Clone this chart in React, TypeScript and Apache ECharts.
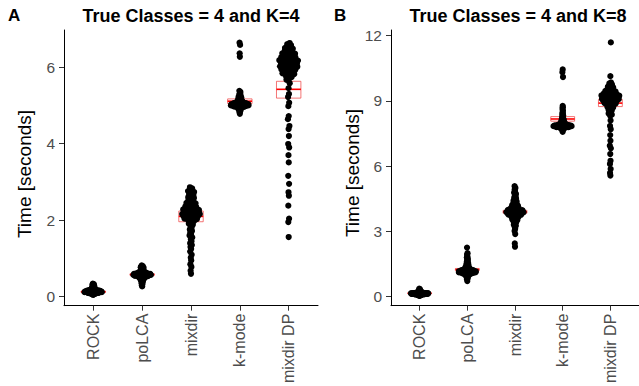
import React, { useEffect, useRef } from "react";
import * as echarts from "echarts";

const categories = ["ROCK", "poLCA", "mixdir", "k-mode", "mixdir DP"];
const yTicksA = [0, 2, 4, 6];
const yTicksB = [0, 3, 6, 9, 12];
const titleA = "True Classes = 4 and K=4";
const titleB = "True Classes = 4 and K=8";
const yName = "Time [seconds]";

// ---------- Panel A (K=4) run times ----------
const rockA = [
  0.05, 0.06, 0.07, 0.07, 0.08, 0.08, 0.08, 0.09, 0.09, 0.09,
  0.09, 0.10, 0.10, 0.10, 0.10, 0.10, 0.10, 0.11, 0.11, 0.11,
  0.11, 0.11, 0.11, 0.11, 0.12, 0.12, 0.12, 0.12, 0.12, 0.12,
  0.12, 0.12, 0.12, 0.13, 0.13, 0.13, 0.13, 0.13, 0.13, 0.13,
  0.13, 0.13, 0.13, 0.14, 0.14, 0.14, 0.14, 0.14, 0.14, 0.14,
  0.14, 0.14, 0.15, 0.15, 0.15, 0.15, 0.15, 0.15, 0.15, 0.15,
  0.16, 0.16, 0.16, 0.16, 0.16, 0.16, 0.17, 0.17, 0.17, 0.17,
  0.17, 0.18, 0.18, 0.18, 0.18, 0.19, 0.19, 0.19, 0.20, 0.20,
  0.21, 0.21, 0.22, 0.22, 0.23, 0.23, 0.24, 0.25, 0.26, 0.27,
  0.28, 0.29, 0.30, 0.31, 0.32, 0.33, 0.34, 0.16, 0.13, 0.12,
];
const polcaA = [
  0.27, 0.30, 0.33, 0.35, 0.37, 0.39, 0.41, 0.42, 0.43, 0.44,
  0.45, 0.46, 0.47, 0.48, 0.48, 0.49, 0.49, 0.50, 0.50, 0.51,
  0.51, 0.52, 0.52, 0.52, 0.53, 0.53, 0.53, 0.54, 0.54, 0.54,
  0.54, 0.55, 0.55, 0.55, 0.55, 0.55, 0.56, 0.56, 0.56, 0.56,
  0.56, 0.57, 0.57, 0.57, 0.57, 0.57, 0.57, 0.58, 0.58, 0.58,
  0.58, 0.58, 0.58, 0.59, 0.59, 0.59, 0.59, 0.59, 0.60, 0.60,
  0.60, 0.60, 0.60, 0.61, 0.61, 0.61, 0.61, 0.62, 0.62, 0.62,
  0.62, 0.63, 0.63, 0.63, 0.64, 0.64, 0.65, 0.65, 0.66, 0.66,
  0.67, 0.68, 0.69, 0.70, 0.71, 0.72, 0.73, 0.74, 0.75, 0.76,
  0.77, 0.78, 0.79, 0.80, 0.82, 0.58, 0.57, 0.59, 0.56, 0.60,
];
const mixdirA = [
  0.60, 0.68, 0.78, 0.85, 0.95, 1.02, 1.10, 1.18, 1.25, 1.30,
  1.35, 1.40, 1.45, 1.50, 1.55, 1.60, 1.64, 1.68, 1.72, 1.76,
  1.80, 1.84, 1.88, 1.91, 1.94, 1.96, 1.98, 2.00, 2.01, 2.02,
  2.03, 2.04, 2.05, 2.06, 2.07, 2.08, 2.09, 2.10, 2.10, 2.11,
  2.12, 2.12, 2.13, 2.14, 2.14, 2.15, 2.16, 2.16, 2.17, 2.18,
  2.18, 2.19, 2.20, 2.20, 2.21, 2.22, 2.22, 2.23, 2.24, 2.24,
  2.25, 2.26, 2.27, 2.28, 2.29, 2.30, 2.31, 2.32, 2.33, 2.34,
  2.35, 2.36, 2.37, 2.38, 2.39, 2.40, 2.41, 2.42, 2.44, 2.45,
  2.47, 2.48, 2.50, 2.52, 2.54, 2.56, 2.58, 2.60, 2.62, 2.64,
  2.66, 2.68, 2.70, 2.72, 2.74, 2.76, 2.78, 2.80, 2.83, 2.86,
];
const kmodeA = [
  4.78, 4.82, 4.85, 4.87, 4.89, 4.90, 4.91, 4.92, 4.93, 4.94,
  4.94, 4.95, 4.95, 4.96, 4.96, 4.97, 4.97, 4.97, 4.98, 4.98,
  4.98, 4.99, 4.99, 4.99, 4.99, 5.00, 5.00, 5.00, 5.00, 5.01,
  5.01, 5.01, 5.01, 5.02, 5.02, 5.02, 5.02, 5.03, 5.03, 5.03,
  5.03, 5.04, 5.04, 5.04, 5.05, 5.05, 5.05, 5.06, 5.06, 5.06,
  5.07, 5.07, 5.07, 5.08, 5.08, 5.09, 5.09, 5.10, 5.10, 5.11,
  5.11, 5.12, 5.12, 5.13, 5.14, 5.15, 5.16, 5.17, 5.18, 5.19,
  5.20, 5.21, 5.22, 5.23, 5.24, 5.26, 5.28, 5.30, 5.32, 5.35,
  5.38, 5.00, 5.01, 5.02, 5.03, 4.99, 4.98, 5.04, 5.05, 5.06,
  5.00, 5.02, 5.03, 5.01, 4.97, 5.04, 6.27, 6.36, 6.58, 6.64,
];
const mixdirDpA = [
  6.63, 6.60, 6.57, 6.54, 6.52, 6.50, 6.48, 6.46, 6.44, 6.42,
  6.41, 6.39, 6.38, 6.36, 6.35, 6.33, 6.32, 6.31, 6.30, 6.28,
  6.27, 6.26, 6.25, 6.24, 6.23, 6.22, 6.21, 6.20, 6.19, 6.18,
  6.17, 6.16, 6.15, 6.14, 6.13, 6.12, 6.11, 6.10, 6.09, 6.08,
  6.07, 6.06, 6.05, 6.04, 6.03, 6.02, 6.01, 6.00, 5.99, 5.98,
  5.97, 5.96, 5.95, 5.94, 5.93, 5.92, 5.91, 5.90, 5.88, 5.87,
  5.85, 5.84, 5.82, 5.80, 5.78, 5.76, 5.74, 5.72, 5.70, 5.67,
  5.58, 5.45, 5.30, 5.22, 5.07, 4.98, 4.72, 4.64, 4.46, 4.38,
  4.20, 3.99, 3.90, 3.70, 3.51, 3.16, 2.95, 2.73, 2.64, 2.38,
  2.04, 1.95, 1.56,
];

// ---------- Panel B (K=8) run times ----------
const rockB = [
  0.04, 0.05, 0.06, 0.07, 0.07, 0.08, 0.08, 0.09, 0.09, 0.09,
  0.10, 0.10, 0.10, 0.10, 0.11, 0.11, 0.11, 0.11, 0.11, 0.12,
  0.12, 0.12, 0.12, 0.12, 0.12, 0.13, 0.13, 0.13, 0.13, 0.13,
  0.13, 0.13, 0.14, 0.14, 0.14, 0.14, 0.14, 0.14, 0.14, 0.14,
  0.15, 0.15, 0.15, 0.15, 0.15, 0.15, 0.15, 0.15, 0.16, 0.16,
  0.16, 0.16, 0.16, 0.16, 0.16, 0.17, 0.17, 0.17, 0.17, 0.17,
  0.17, 0.18, 0.18, 0.18, 0.18, 0.18, 0.19, 0.19, 0.19, 0.19,
  0.20, 0.20, 0.20, 0.21, 0.21, 0.21, 0.22, 0.22, 0.23, 0.23,
  0.24, 0.24, 0.25, 0.26, 0.27, 0.28, 0.30, 0.32, 0.35, 0.37,
  0.15, 0.14, 0.16, 0.13, 0.15, 0.17, 0.12, 0.16, 0.14, 0.15,
];
const polcaB = [
  0.72, 0.80, 0.85, 0.89, 0.92, 0.95, 0.97, 0.99, 1.00, 1.01,
  1.02, 1.03, 1.04, 1.05, 1.05, 1.06, 1.07, 1.07, 1.08, 1.08,
  1.09, 1.09, 1.10, 1.10, 1.10, 1.11, 1.11, 1.11, 1.12, 1.12,
  1.12, 1.13, 1.13, 1.13, 1.14, 1.14, 1.14, 1.15, 1.15, 1.15,
  1.16, 1.16, 1.16, 1.17, 1.17, 1.17, 1.18, 1.18, 1.18, 1.19,
  1.19, 1.19, 1.20, 1.20, 1.21, 1.21, 1.22, 1.22, 1.23, 1.23,
  1.24, 1.24, 1.25, 1.25, 1.26, 1.27, 1.28, 1.29, 1.30, 1.31,
  1.32, 1.33, 1.34, 1.35, 1.37, 1.38, 1.40, 1.42, 1.44, 1.46,
  1.48, 1.50, 1.53, 1.56, 1.59, 1.62, 1.66, 1.70, 1.75, 1.80,
  1.86, 1.93, 2.00, 2.26, 1.15, 1.16, 1.12, 1.18, 1.14, 1.20,
];
const mixdirB = [
  2.30, 2.45, 2.88, 3.02, 3.12, 3.20, 3.26, 3.31, 3.35, 3.39,
  3.42, 3.45, 3.48, 3.51, 3.53, 3.55, 3.57, 3.59, 3.61, 3.63,
  3.64, 3.66, 3.67, 3.69, 3.70, 3.71, 3.73, 3.74, 3.75, 3.76,
  3.77, 3.78, 3.79, 3.80, 3.81, 3.82, 3.83, 3.84, 3.85, 3.86,
  3.87, 3.88, 3.89, 3.90, 3.91, 3.92, 3.93, 3.94, 3.95, 3.96,
  3.97, 3.98, 3.99, 4.00, 4.01, 4.02, 4.03, 4.04, 4.05, 4.07,
  4.08, 4.09, 4.11, 4.12, 4.14, 4.15, 4.17, 4.19, 4.21, 4.23,
  4.25, 4.27, 4.29, 4.32, 4.35, 4.38, 4.41, 4.44, 4.48, 4.52,
  4.56, 4.61, 4.66, 4.72, 4.78, 4.85, 4.92, 5.00, 5.08, 3.85,
  3.90, 3.95, 3.80, 3.88, 3.92, 3.84, 3.96, 3.87, 3.93, 3.89,
];
const kmodeB = [
  7.58, 7.63, 7.67, 7.70, 7.72, 7.74, 7.75, 7.76, 7.77, 7.78,
  7.79, 7.79, 7.80, 7.80, 7.81, 7.81, 7.82, 7.82, 7.83, 7.83,
  7.84, 7.84, 7.85, 7.85, 7.86, 7.86, 7.87, 7.87, 7.88, 7.88,
  7.89, 7.89, 7.90, 7.90, 7.91, 7.92, 7.92, 7.93, 7.94, 7.95,
  7.96, 7.97, 7.98, 7.99, 8.00, 8.01, 8.02, 8.03, 8.04, 8.06,
  8.07, 8.09, 8.10, 8.12, 8.14, 8.16, 8.18, 8.20, 8.23, 8.26,
  8.29, 8.33, 8.37, 8.42, 8.48, 8.55, 8.63, 8.71, 8.77, 7.82,
  7.84, 7.86, 7.80, 7.85, 7.83, 7.88, 7.81, 7.87, 7.90, 7.79,
  7.84, 7.86, 7.83, 7.89, 7.85, 7.82, 7.91, 7.80, 7.86, 7.84,
  7.88, 7.83, 7.85, 7.87, 10.10, 10.32, 10.45,
];
const mixdirDpB = [
  11.69, 10.14, 9.85, 9.80, 9.76, 9.72, 9.68, 9.65, 9.62, 9.59,
  9.56, 9.54, 9.52, 9.50, 9.48, 9.46, 9.44, 9.42, 9.41, 9.39,
  9.38, 9.36, 9.35, 9.34, 9.32, 9.31, 9.30, 9.29, 9.28, 9.27,
  9.26, 9.25, 9.24, 9.23, 9.22, 9.21, 9.20, 9.19, 9.18, 9.17,
  9.16, 9.15, 9.14, 9.13, 9.12, 9.11, 9.10, 9.09, 9.08, 9.07,
  9.06, 9.05, 9.04, 9.03, 9.02, 9.01, 9.00, 8.99, 8.97, 8.96,
  8.94, 8.93, 8.91, 8.90, 8.88, 8.86, 8.84, 8.82, 8.80, 8.78,
  8.76, 8.73, 8.70, 8.67, 8.64, 8.60, 8.56, 8.52, 8.47, 8.42,
  8.37, 8.32, 8.10, 7.85, 7.70, 7.43, 7.17, 6.94, 6.82, 6.56,
  6.25, 6.10, 5.87, 5.69, 5.57,
];

// ---------- red crossbars (mean and interval) ----------
const barMeanA = [0.13, 0.58, 2.10, 5.11, 5.42];
const barLowA = [0.11, 0.56, 1.96, 5.05, 5.19];
const barHighA = [0.15, 0.60, 2.24, 5.17, 5.63];
const barMeanB = [0.16, 1.25, 3.90, 8.17, 8.90];
const barLowB = [0.14, 1.20, 3.84, 8.07, 8.74];
const barHighB = [0.18, 1.30, 3.97, 8.28, 9.07];

const groupsA = [rockA, polcaA, mixdirA, kmodeA, mixdirDpA];
const groupsB = [rockB, polcaB, mixdirB, kmodeB, mixdirDpB];

const FONT = '"Liberation Sans", Arial, Helvetica, sans-serif';

// quasirandom (van der Corput + kernel density) horizontal layout
function vdc(i: number): number {
  let v = 0, denom = 1;
  while (i > 0) {
    denom *= 2;
    v += (i % 2) / denom;
    i = Math.floor(i / 2);
  }
  return v;
}
function quantile(s: number[], p: number): number {
  const h = (s.length - 1) * p;
  const lo = Math.floor(h);
  const hi = Math.min(lo + 1, s.length - 1);
  return s[lo] + (h - lo) * (s[hi] - s[lo]);
}
function quasiOffsets(vals: number[], width: number): number[] {
  const n = vals.length;
  const s = [...vals].sort((a, b) => a - b);
  const mean = vals.reduce((a, b) => a + b, 0) / n;
  const sd = Math.sqrt(vals.reduce((a, b) => a + (b - mean) ** 2, 0) / (n - 1));
  const iqr = quantile(s, 0.75) - quantile(s, 0.25);
  let lo = Math.min(sd, iqr / 1.34);
  if (!(lo > 0)) lo = sd || 1;
  const bw = 0.9 * lo * Math.pow(n, -0.2) * 0.5;
  const dens = (y: number) => {
    let d = 0;
    for (const v of vals) {
      const z = (y - v) / bw;
      d += Math.exp(-0.5 * z * z);
    }
    return d;
  };
  let maxD = 0;
  const g0 = s[0] - 3 * bw, g1 = s[n - 1] + 3 * bw;
  for (let k = 0; k <= 512; k++) maxD = Math.max(maxD, dens(g0 + ((g1 - g0) * k) / 512));
  const order = vals.map((v, i) => i).sort((a, b) => vals[a] - vals[b] || a - b);
  const rank = new Array(n);
  order.forEach((idx, r) => (rank[idx] = r + 1));
  return vals.map((v, i) => (vdc(rank[i]) - 0.5) * 2 * width * (dens(v) / maxD));
}

function swarmData(groups: number[][]) {
  const out: number[][] = [];
  groups.forEach((g, gi) => {
    const off = quasiOffsets(g, 0.2);
    g.forEach((v, i) => out.push([gi + 1 + off[i], v]));
  });
  return out;
}
function barData(mean: number[], low: number[], high: number[]) {
  return mean.map((m, i) => [i + 1, low[i], m, high[i]]);
}

const renderBar = (params: any, api: any) => {
  const x = api.value(0);
  const lo = api.value(1), m = api.value(2), hi = api.value(3);
  const a = api.coord([x - 0.25, hi]);
  const b = api.coord([x + 0.25, lo]);
  const m1 = api.coord([x - 0.25, m]);
  const m2 = api.coord([x + 0.25, m]);
  return {
    type: "group",
    children: [
      {
        type: "rect",
        shape: { x: a[0], y: a[1], width: b[0] - a[0], height: b[1] - a[1] },
        style: { fill: "none", stroke: "rgba(240,60,60,0.7)", lineWidth: 1 },
      },
      {
        type: "line",
        shape: { x1: m1[0], y1: m1[1], x2: m2[0], y2: m2[1] },
        style: { stroke: "#ff0000", lineWidth: 1.6 },
      },
    ],
  };
};

function xAxisFor(gridIndex: number) {
  const ticks = categories.map((c, i) => i + 1);
  return {
    type: "value",
    gridIndex,
    min: 0.4,
    max: 5.6,
    axisLine: { show: true, onZero: false, lineStyle: { color: "#000", width: 1 } },
    axisTick: { show: true, customValues: ticks, length: 5, lineStyle: { color: "#333" } },
    axisLabel: {
      customValues: ticks,
      formatter: (v: number) => categories[Math.round(v) - 1] ?? "",
      rotate: 90,
      fontSize: 16,
      color: "#4d4d4d",
      fontFamily: FONT,
      margin: 8,
    },
    splitLine: { show: false },
  };
}
function yAxisFor(gridIndex: number, min: number, max: number, ticks: number[]) {
  return {
    type: "value",
    gridIndex,
    min,
    max,
    axisLine: { show: true, onZero: false, lineStyle: { color: "#000", width: 1 } },
    axisTick: { show: true, customValues: ticks, length: 5, lineStyle: { color: "#333" } },
    axisLabel: {
      customValues: ticks,
      fontSize: 15.5,
      color: "#4d4d4d",
      fontFamily: FONT,
      margin: 9,
    },
    splitLine: { show: false },
  };
}

export default function App() {
  const ref = useRef<HTMLDivElement>(null);
  useEffect(() => {
    const chart = echarts.init(ref.current!, null, { renderer: "svg" });
    const option: any = {
      animation: false,
      backgroundColor: "#fff",
      grid: [
        { left: 64, top: 30, width: 254, height: 278 },
        { left: 391, top: 30, width: 252, height: 278 },
      ],
      xAxis: [xAxisFor(0), xAxisFor(1)],
      yAxis: [yAxisFor(0, -0.233, 6.97, yTicksA), yAxisFor(1, -0.41, 12.26, yTicksB)],
      series: [
        {
          type: "custom",
          xAxisIndex: 0,
          yAxisIndex: 0,
          renderItem: renderBar,
          data: barData(barMeanA, barLowA, barHighA),
          encode: { x: 0, y: [1, 2, 3] },
          z: 1,
          silent: true,
        },
        {
          type: "custom",
          xAxisIndex: 1,
          yAxisIndex: 1,
          renderItem: renderBar,
          data: barData(barMeanB, barLowB, barHighB),
          encode: { x: 0, y: [1, 2, 3] },
          z: 1,
          silent: true,
        },
        {
          type: "scatter",
          xAxisIndex: 0,
          yAxisIndex: 0,
          data: swarmData(groupsA),
          symbolSize: 6.2,
          itemStyle: { color: "#000", opacity: 1 },
          z: 3,
          silent: true,
        },
        {
          type: "scatter",
          xAxisIndex: 1,
          yAxisIndex: 1,
          data: swarmData(groupsB),
          symbolSize: 6.2,
          itemStyle: { color: "#000", opacity: 1 },
          z: 3,
          silent: true,
        },
      ],
      graphic: [
        { type: "text", left: 8, top: 7, style: { text: "A", fontSize: 17, fontWeight: "bold", fontFamily: FONT, fill: "#000" } },
        { type: "text", left: 334, top: 7, style: { text: "B", fontSize: 17, fontWeight: "bold", fontFamily: FONT, fill: "#000" } },
        { type: "text", x: 191, y: 16, style: { text: titleA, fontSize: 18, fontWeight: "bold", fontFamily: FONT, fill: "#000", align: "center", verticalAlign: "middle" } },
        { type: "text", x: 518, y: 16, style: { text: titleB, fontSize: 18, fontWeight: "bold", fontFamily: FONT, fill: "#000", align: "center", verticalAlign: "middle" } },
        { type: "text", x: 24, y: 174, rotation: Math.PI / 2, style: { text: yName, fontSize: 19, fontFamily: FONT, fill: "#000", align: "center", verticalAlign: "middle" } },
        { type: "text", x: 352, y: 173, rotation: Math.PI / 2, style: { text: yName, fontSize: 19, fontFamily: FONT, fill: "#000", align: "center", verticalAlign: "middle" } },
      ],
    };
    chart.setOption(option);
    return () => chart.dispose();
  }, []);
  return <div ref={ref} style={{ position: "absolute", left: 0, top: 0, width: 639, height: 386 }} />;
}
